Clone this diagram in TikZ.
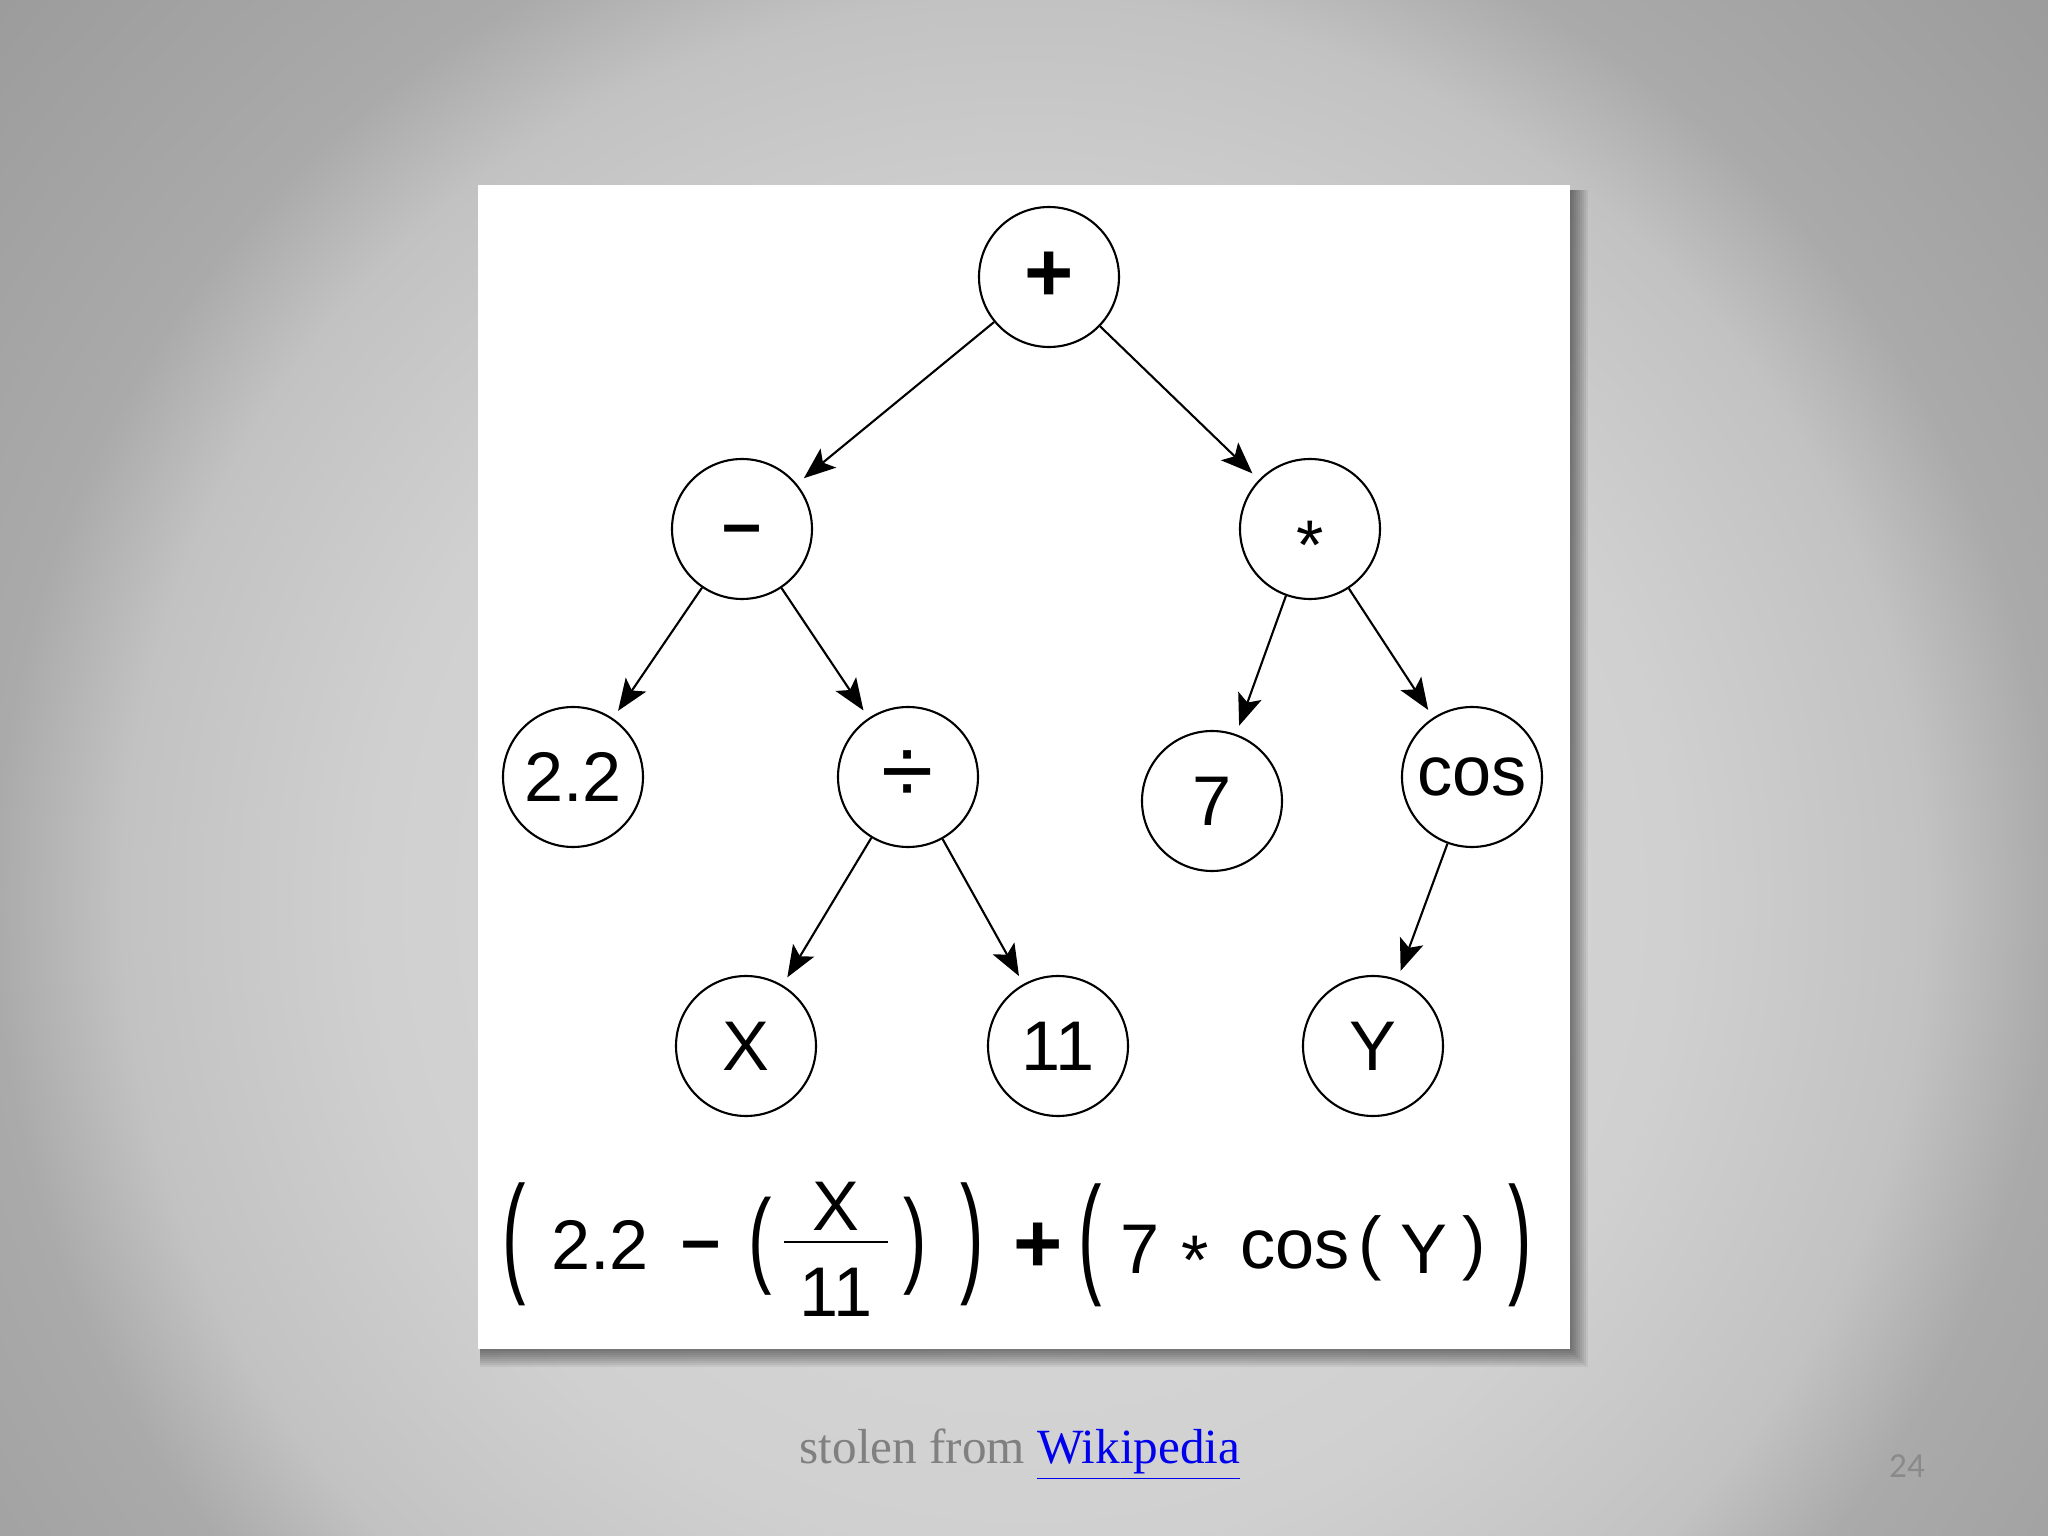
\documentclass[tikz,border=0pt]{standalone}
\usepackage{graphicx}
\usepackage{fontspec}
\setmainfont{Liberation Serif}
\newfontfamily\arial{Liberation Sans}
\newfontfamily\carlito{Carlito}
\usetikzlibrary{arrows.meta}
\definecolor{bga}{RGB}{220,220,220}
\definecolor{bgb}{RGB}{208,208,208}
\definecolor{bgc}{RGB}{194,194,194}
\definecolor{bgd}{RGB}{170,170,170}
\definecolor{bge}{RGB}{156,156,156}
\definecolor{footgray}{RGB}{128,128,128}
\definecolor{pagegray}{RGB}{138,138,138}
\definecolor{linkblue}{RGB}{0,0,238}
\pgfdeclareradialshading{slideshade}{\pgfpoint{0bp}{0bp}}{color(0bp)=(bga); color(11.6bp)=(bgb); color(16.1bp)=(bgc); color(18.4bp)=(bgd); color(24.3bp)=(bge); color(25bp)=(bge)}

\begin{document}
\begin{tikzpicture}[
	opnode/.style={circle, draw, line width=0.6pt, minimum size=1.4cm, inner sep=0pt, font=\arial\fontsize{20}{24}\selectfont},
	edge/.style={-{Stealth[length=9pt,width=7pt,inset=2pt]}, line width=0.6pt, shorten >=0.09cm},
	piece/.style={inner sep=0pt, font=\arial\fontsize{20}{24}\selectfont},
	bigop/.style={font=\arial\bfseries\fontsize{24}{28}\selectfont}]
	\useasboundingbox (0,0) rectangle (20.48,-15.36);
	\begin{scope}
		\clip (0,0) rectangle (20.48,-15.36);
		\shade[shading=slideshade] (10.24,-9.0) circle (14);
	\end{scope}
	
	% card
	\foreach \o in {0,0.02,...,0.2}
		\fill[black, opacity=0.06] (4.80,-1.90) rectangle (15.70+\o,-13.49-\o);
	\fill[white] (4.78,-1.855) rectangle (15.70,-13.49);
	
	\node[opnode, bigop] (plus) at (10.49,-2.77) {+};
	\node[opnode, text height=10.8pt, text depth=0pt] (minus) at (7.42,-5.29) {\textbf{–}};
	\node[opnode, text height=23.2pt, text depth=0pt] (times) at (13.10,-5.29) {*};
	\node[opnode] (twotwo) at (5.73,-7.77) {2.2};
	\node[opnode, font=\arial\fontsize{27}{30}\selectfont] (divide) at (9.08,-7.77) {÷};
	\node[opnode] (seven) at (12.12,-8.01) {7};
	\node[opnode] (cosine) at (14.72,-7.77) {cos};
	\node[opnode] (x) at (7.46,-10.46) {X};
	\node[opnode] (eleven) at (10.58,-10.46) {11};
	\node[opnode] (y) at (13.73,-10.46) {Y};
	
	% plus
	\draw[edge] (plus) -- (minus);
	\draw[edge] (plus) -- (times);
	% minus
	\draw[edge] (minus) -- (twotwo);
	\draw[edge] (minus) -- (divide);
	% times
	\draw[edge] (times) -- (seven);
	\draw[edge] (times) -- (cosine);
	% divide
	\draw[edge] (divide) -- (x);
	\draw[edge] (divide) -- (eleven);
	% cos
	\draw[edge] (cosine) -- (y);
	
	% formula
	\node[piece] (lbiga) at (5.14,-12.44) {\scalebox{1}[1.88]{(}};
	\node[piece, anchor=base] (ftwotwo) at (6.00,-12.69) {2.2};
	\node[piece, anchor=base] (fminus) at (7.01,-12.63) {\textbf{–}};
	\node[piece] (lmid) at (7.60,-12.46) {\scalebox{1}[1.5]{(}};
	\node[piece, anchor=base] (fx) at (8.36,-12.30) {X};
	\coordinate (barl) at (7.84,-12.42);
	\coordinate (barr) at (8.88,-12.42);
	\draw[line width=0.8pt] (barl) -- (barr);
	\node[piece, anchor=base] (feleven) at (8.36,-13.16) {11};
	\node[piece] (rmid) at (9.15,-12.46) {\scalebox{1}[1.5]{)}};
	\node[piece] (rbiga) at (9.72,-12.44) {\scalebox{1}[1.88]{)}};
	\node[piece, bigop] (fplus) at (10.38,-12.48) {+};
	\node[piece] (lbigb) at (10.90,-12.45) {\scalebox{1}[1.88]{(}};
	\node[piece, anchor=base] (fseven) at (11.40,-12.73) {7};
	\node[piece, anchor=base] (fstar) at (11.95,-12.84) {*};
	\node[piece, anchor=base] (fcos) at (12.95,-12.68) {cos};
	\node[piece] (lsmall) at (13.70,-12.48) {(};
	\node[piece, anchor=base] (fy) at (14.24,-12.73) {Y};
	\node[piece] (rsmall) at (14.74,-12.48) {)};
	\node[piece] (rbigb) at (15.20,-12.45) {\scalebox{1}[1.88]{)}};
	
	% footer
	\node[anchor=base, font=\fontsize{14}{17}\selectfont] (credit) at (10.2,-14.63) {\textcolor{footgray}{stolen from} \textcolor{linkblue}{\underline{Wikipedia}}};
	\node[anchor=base, font=\carlito\fontsize{10}{12}\selectfont, text=pagegray] (pagenum) at (19.07,-14.77) {24};
\end{tikzpicture}
\end{document}
